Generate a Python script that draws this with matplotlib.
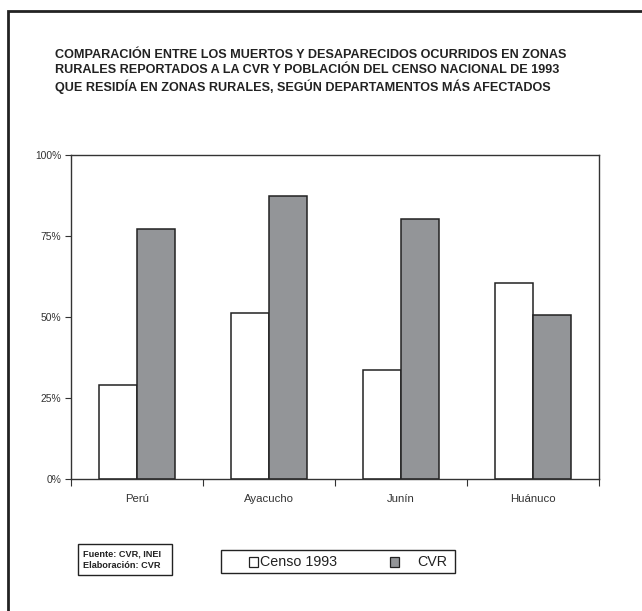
import matplotlib
matplotlib.use("Agg")
import matplotlib.pyplot as plt
from matplotlib import font_manager
from matplotlib.patches import Rectangle
import numpy as np

# Data
departamentos = ["Perú", "Ayacucho", "Junín", "Huánuco"]
censo_1993 = [29.0, 51.2, 33.6, 60.5]
cvr = [77.2, 87.3, 80.2, 50.6]
y_ticks = [0, 25, 50, 75, 100]
y_labels = ["0%", "25%", "50%", "75%", "100%"]
series_names = ["Censo 1993", "CVR"]

title = ("COMPARACIÓN ENTRE LOS MUERTOS Y DESAPARECIDOS OCURRIDOS EN ZONAS\n"
         "RURALES REPORTADOS A LA CVR Y POBLACIÓN DEL CENSO NACIONAL DE 1993\n"
         "QUE RESIDÍA EN ZONAS RURALES, SEGÚN DEPARTAMENTOS MÁS AFECTADOS")
fuente = "Fuente: CVR, INEI\nElaboración: CVR"

W, H = 642, 611
GRAY = "#939598"
EDGE = "#222222"


def find_font(name, bold, size):
    # pick the exact installed file so narrow/regular variants don't get mixed up
    for f in font_manager.fontManager.ttflist:
        is_bold = f.weight in (700, "bold")
        if f.name == name and is_bold == bold and f.style == "normal":
            return font_manager.FontProperties(fname=f.fname, size=size)
    if name == "DejaVu Sans":
        return font_manager.FontProperties(family="DejaVu Sans",
                                           weight="bold" if bold else "normal", size=size)
    fallback = "Liberation Sans" if name != "Liberation Sans" else "DejaVu Sans"
    return find_font(fallback, bold, size)


fig = plt.figure(figsize=(W / 100, H / 100), dpi=100)
fig.patch.set_facecolor("white")


def px(x, y):
    return x / W, 1 - y / H


# outer frame (only left and top edges fall inside the image)
frame = Rectangle(px(8, 700), 800 / W, (700 - 11) / H, transform=fig.transFigure,
                  fill=False, edgecolor=EDGE, linewidth=2.0)
fig.add_artist(frame)

# title
tx, ty = px(55, 49)
fig.text(tx, ty, title, ha="left", va="top", color=EDGE, linespacing=1.3,
         fontproperties=find_font("Liberation Sans", True, 9.1))

# axes
ax = fig.add_axes([71 / W, (H - 479) / H, 528 / W, 324 / H])
x = np.arange(len(departamentos))
w = 0.29
ax.bar(x - w / 2, censo_1993, width=w, color="white", edgecolor=EDGE, linewidth=1.1)
ax.bar(x + w / 2, cvr, width=w, color=GRAY, edgecolor=EDGE, linewidth=1.1)

ax.set_xlim(-0.5, len(departamentos) - 0.5)
ax.set_ylim(0, 100)
ax.set_yticks(y_ticks)
ax.set_yticklabels(y_labels, fontproperties=find_font("Liberation Sans Narrow", False, 7.4),
                   color="#333333")
ax.set_xticks(np.arange(len(departamentos) + 1) - 0.5)
ax.set_xticklabels([])
ax.set_xticks(x, minor=True)
ax.set_xticklabels(departamentos, minor=True,
                   fontproperties=find_font("Liberation Sans Narrow", False, 8.2), color="#333333")
ax.tick_params(axis="x", which="major", length=5, direction="out", color="#333333")
ax.tick_params(axis="x", which="minor", length=0, pad=11)
ax.tick_params(axis="y", length=4, direction="out", color="#333333", pad=3)
for side in ["left", "right", "top", "bottom"]:
    ax.spines[side].set_color("#333333")
    ax.spines[side].set_linewidth(1.0)

# source box
bx0, by0 = px(78, 575)
fig.add_artist(Rectangle((bx0, by0), (172 - 78) / W, (575 - 544) / H, transform=fig.transFigure,
                         facecolor="white", edgecolor=EDGE, linewidth=1.0))
sx, sy = px(83, 559.5)
fig.text(sx, sy, fuente, ha="left", va="center", color=EDGE, linespacing=1.3,
         fontproperties=find_font("Liberation Sans Narrow", True, 6.6))

# legend, laid out by hand to follow the original spacing
bx0, by0 = px(221, 573)
fig.add_artist(Rectangle((bx0, by0), (455 - 221) / W, (573 - 550) / H, transform=fig.transFigure,
                         facecolor="white", edgecolor=EDGE, linewidth=1.0))
leg_font = find_font("Liberation Sans Narrow", False, 10.3)
for (sq_x, txt_x), name, col in zip([(249, 260), (390, 417)], series_names, ["white", GRAY]):
    qx, qy = px(sq_x, 567)
    fig.add_artist(Rectangle((qx, qy), 9 / W, 10 / H, transform=fig.transFigure,
                             facecolor=col, edgecolor=EDGE, linewidth=0.9))
    lx, ly = px(txt_x, 561.5)
    fig.text(lx, ly, name, ha="left", va="center", color=EDGE, fontproperties=leg_font)

fig.savefig("out.png", dpi=100, facecolor="white")
